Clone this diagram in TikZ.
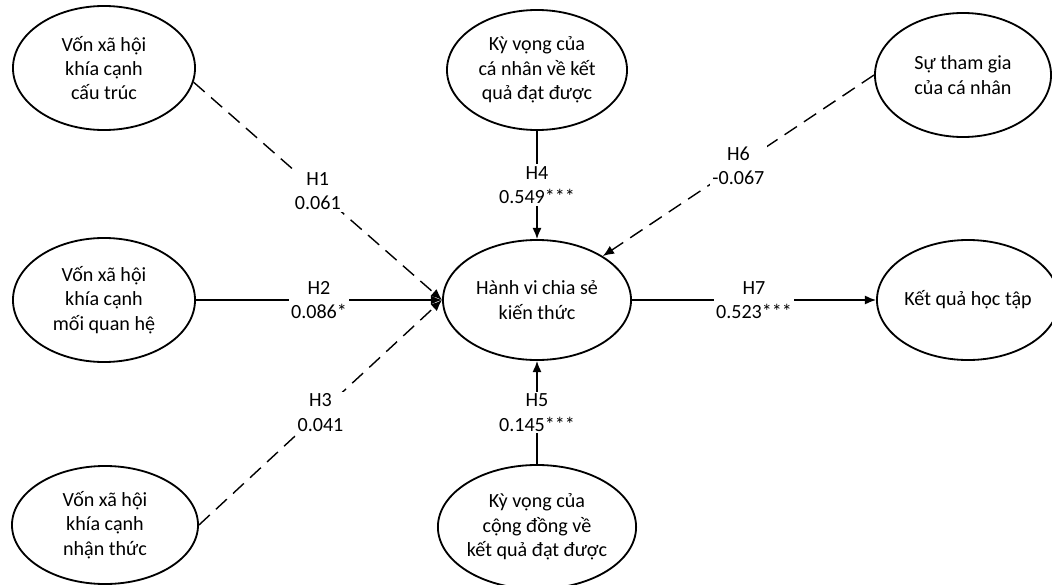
\documentclass[tikz,border=0pt]{standalone}
\usepackage{fontspec}
\setmainfont{Carlito}
\usetikzlibrary{shapes.geometric, arrows.meta, positioning}
\tikzset{
    construct/.style={
        ellipse,
        draw=black,
        line width=1.3pt,
        minimum width=4.55cm,
        minimum height=3.1cm,
        inner sep=0pt,
        align=center,
        fill=white
    },
    link/.style={
        draw=black,
        line width=1pt,
        -{Latex[length=8pt,width=6.5pt]}
    },
    dlink/.style={
        link,
        dash pattern=on 10.5pt off 6pt
    },
    coef/.style={
        fill=white,
        inner sep=1.5pt,
        align=center
    }
}

\begin{document}
\begin{tikzpicture}[x=0.025cm, y=-0.025cm, font=\fontsize{14.3}{17.3}\selectfont]

\useasboundingbox (0,0) rectangle (1052,585);

% Social capital constructs
\node[construct] (vct) at (104,68) {Vốn xã hội\\khía cạnh\\cấu trúc};
\node[construct] (vqh) at (104,300) {Vốn xã hội\\khía cạnh\\mối quan hệ};
\node[construct, minimum width=4.65cm, minimum height=2.95cm] (vnt) at (105,525) {Vốn xã hội\\khía cạnh\\nhận thức};

% Expectations
\node[construct, minimum width=4.5cm, minimum height=3cm] (kvcn) at (537,70) {Kỳ vọng của\\cá nhân về kết\\quả đạt được};
\node[construct, minimum width=4.65cm, minimum height=3.1cm] (kvcd) at (537,527) {Kỳ vọng của\\cộng đồng về\\kết quả đạt được};

% Knowledge sharing
\node[construct, minimum width=4.7cm, minimum height=3cm] (hvcs) at (537,300) {Hành vi chia sẻ\\kiến thức};

% Participation and outcome
\node[construct, minimum width=4.4cm] (stg) at (963,75) {Sự tham gia\\của cá nhân};
\node[construct, minimum height=3cm] (kqht) at (968,300) {Kết quả học tập};

% Paths
\draw[dlink] (vct.-9) -- (hvcs.west) node[coef, midway] {H1\\0.061};
\draw[link] (vqh) -- (hvcs) node[coef, midway] {H2\\0.086*};
\draw[dlink] (vnt.east) -- (hvcs.west) node[coef, midway] {H3\\0.041};
\draw[link] (kvcn) -- (hvcs) node[coef, midway] {H4\\0.549***};
\draw[link] (kvcd) -- (hvcs) node[coef, midway] {H5\\0.145***};
\draw[dlink] (stg.west) -- (hvcs) node[coef, midway] {H6\\-0.067};
\draw[link] (hvcs) -- (kqht) node[coef, midway] {H7\\0.523***};

\end{tikzpicture}
\end{document}
